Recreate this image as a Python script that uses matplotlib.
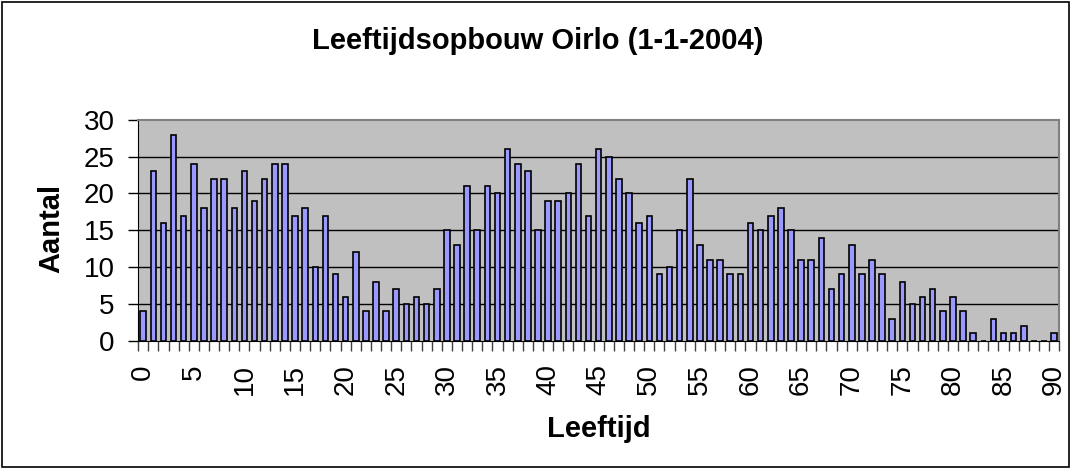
import numpy as np
import matplotlib
matplotlib.use("Agg")
from matplotlib import pyplot as plt
from matplotlib.patches import Rectangle

# Data
ages = list(range(0, 91))
counts = [4, 23, 16, 28, 17, 24, 18, 22, 22, 18,
          23, 19, 22, 24, 24, 17, 18, 10, 17, 9,
          6, 12, 4, 8, 4, 7, 5, 6, 5, 7,
          15, 13, 21, 15, 21, 20, 26, 24, 23, 15,
          19, 19, 20, 24, 17, 26, 25, 22, 20, 16,
          17, 9, 10, 15, 22, 13, 11, 11, 9, 9,
          16, 15, 17, 18, 15, 11, 11, 14, 7, 9,
          13, 9, 11, 9, 3, 8, 5, 6, 7, 4,
          6, 4, 1, 0, 3, 1, 1, 2, 0, 0, 1]
x_ticks = list(range(0, 91, 5))
y_ticks = [0, 5, 10, 15, 20, 25, 30]

plt.rcParams['font.family'] = ['Liberation Sans', 'DejaVu Sans']

fig = plt.figure(figsize=(10.71, 4.68), dpi=100)
fig.patches.append(Rectangle((0.002, 0.002), 0.996, 0.994, transform=fig.transFigure,
                             fill=False, edgecolor='black', linewidth=1.2))

ax = fig.add_axes([0.129, 0.272, 0.860, 0.472])
ax.set_facecolor('#C0C0C0')
ax.bar(ages, counts, width=0.55, color='#9999FF', edgecolor='black', linewidth=1.2, zorder=3)

ax.set_xlim(-0.5, 90.5)
ax.set_ylim(0, 30)
ax.set_yticks(y_ticks)
ax.set_yticklabels([str(t) for t in y_ticks], fontsize=20)
ax.set_xticks(x_ticks)
ax.set_xticklabels([str(t) for t in x_ticks], rotation=90, fontsize=20)
ax.set_xticks(np.arange(-0.5, 91, 1), minor=True)
ax.tick_params(axis='x', which='major', length=0, pad=17)
ax.tick_params(axis='x', which='minor', length=7, width=1, direction='out', color='#404040')
ax.tick_params(axis='y', length=7, width=1, direction='out', pad=10)

for y in y_ticks[1:-1]:
    ax.axhline(y, color='black', linewidth=1.0, zorder=1)

ax.spines['top'].set_color('#808080')
ax.spines['right'].set_color('#808080')
ax.spines['top'].set_linewidth(1.5)
ax.spines['right'].set_linewidth(1.5)

fig.text(0.502, 0.895, 'Leeftijdsopbouw Oirlo (1-1-2004)', ha='center', va='baseline',
         fontsize=21, fontweight='bold')
fig.text(0.0476, 0.511, 'Aantal', ha='center', va='center', rotation=90,
         fontsize=21, fontweight='bold')
fig.text(0.5588, 0.0662, 'Leeftijd', ha='center', va='baseline',
         fontsize=21, fontweight='bold')

plt.savefig('out.png', dpi=100)
